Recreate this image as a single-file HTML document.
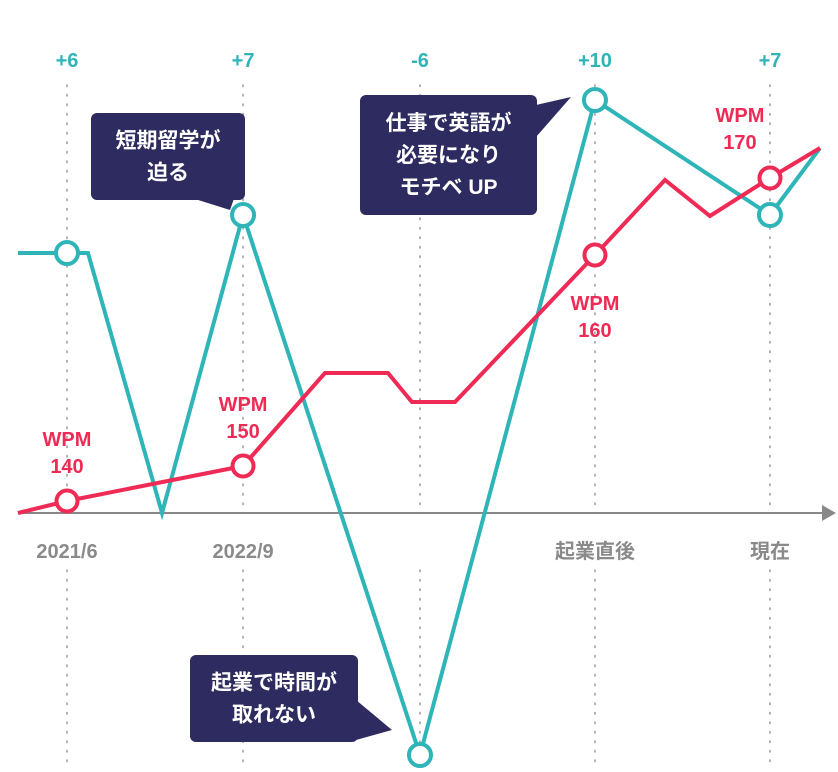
<!DOCTYPE html>
<html><head><meta charset="utf-8">
<style>
html,body{margin:0;padding:0;background:#fff;}
svg{display:block;font-family:"Liberation Sans","Noto Sans CJK JP",sans-serif;}
</style></head>
<body>
<svg id="chart" width="838" height="772" viewBox="0 0 838 772"></svg>
<script>
// ---- data ----
const categories = ["2021/6","2022/9","","起業直後","現在"];
const catX = [2.8, 12.86, 22.97, 32.97, 42.97];
const deltaLabels = ["+6","+7","-6","+10","+7"];
const xsTeal = [0, 2.8, 4, 8.23, 12.86, 22.97, 32.97, 42.97, 45.83];
const vTeal  = [26, 26, 26, 0, 29.8, -24.2, 41.3, 29.8, 36.5];
const tealMarkers = [1, 4, 5, 6, 7];
const xsRed = [0, 2.8, 12.86, 17.54, 21.14, 22.51, 24.97, 32.97, 36.97, 39.54, 42.97, 45.83];
const vRed  = [0, 1.2, 4.7, 14, 14, 11.1, 11.1, 25.8, 33.3, 29.7, 33.5, 36.5];
const redMarkers = [1, 2, 7, 10];
const wpmLabels = ["140","150","160","170"];

// ---- scales ----
const X0 = 18, PX = 17.5, AXIS_Y = 513, PY = 10;
const xScale = t => X0 + t * PX;
const yScale = v => AXIS_Y - v * PY;

const svg = document.getElementById('chart');
const NS = 'http://www.w3.org/2000/svg';
function mk(tag, attrs, parent){
  const e = document.createElementNS(NS, tag);
  for (const k in attrs) e.setAttribute(k, attrs[k]);
  (parent || svg).appendChild(e);
  return e;
}
const TEAL = '#2fb5b8', RED = '#ee2a55', NAVY = '#2d2b5f', GRAY = '#8a8a8a';

catX.forEach((t, i) => {
  const x = xScale(t);
  const l = mk('line', {x1:x, y1:85, x2:x, y2:505, stroke:'#999', 'stroke-width':1.5, 'stroke-dasharray':'1.5 8', 'stroke-linecap':'round'});
  
  
  const l2 = mk('line', {x1:x, y1:570, x2:x, y2:765, stroke:'#999', 'stroke-width':1.5, 'stroke-dasharray':'1.5 8', 'stroke-linecap':'round'});
  
  
  const d = mk('text', {x:x, y:67, 'text-anchor':'middle', fill:TEAL, 'font-size':20, 'font-weight':'bold'});
  d.textContent = deltaLabels[i];
  
  
  if (categories[i]) {
    const c = mk('text', {x:x, y:558, 'text-anchor':'middle', fill:GRAY, 'font-size':20, 'font-weight':'bold'});
    c.textContent = categories[i];
    
    
  }
});

const ax = mk('line', {x1:18, y1:AXIS_Y, x2:826, y2:AXIS_Y, stroke:'#888', 'stroke-width':2});


const arr = mk('path', {d:'M836 513 L822 505 L822 521 Z', fill:'#888'});



function callout(name, x, y, w, h, tri, lines){
  const g = mk('g', {});
  
  
  mk('rect', {x:x, y:y, width:w, height:h, rx:6, fill:NAVY}, g);
  mk('path', {d:tri, fill:NAVY}, g);
  const lh = 32, startY = y + h/2 - (lines.length-1)*lh/2 + 7;
  lines.forEach((s, i) => {
    const t = mk('text', {x:x + w/2, y:startY + i*lh, 'text-anchor':'middle', fill:'#fff', 'font-size':21, 'font-weight':'bold'}, g);
    t.textContent = s;
  });
}
callout('callout-study-abroad', 91, 113, 154, 87, 'M195 199 L230 210 L244 170 Z', ['短期留学が','迫る']);
callout('callout-work-english', 360, 95, 177, 120, 'M536 105 L571 97 L536 137 Z', ['仕事で英語が','必要になり','モチベ UP']);
callout('callout-no-time', 190, 655, 168, 87, 'M356 700 L392 730 L356 740 Z', ['起業で時間が','取れない']);

function series(name, xs, vs, color){
  const p = mk('polyline', {points: xs.map((t,i)=>xScale(t)+','+yScale(vs[i])).join(' '), fill:'none', stroke:color, 'stroke-width':4, 'stroke-linejoin':'miter'});
  
  
}
series('motivation-line', xsTeal, vTeal, TEAL);
series('wpm-line', xsRed, vRed, RED);

tealMarkers.forEach(i => {
  const c = mk('circle', {cx:xScale(xsTeal[i]), cy:yScale(vTeal[i]), r:11, fill:'#fff', stroke:TEAL, 'stroke-width':4});
  
  
});
redMarkers.forEach((i, k) => {
  const cx = xScale(xsRed[i]), cy = yScale(vRed[i]);
  const c = mk('circle', {cx:cx, cy:cy, r:10.5, fill:'#fff', stroke:RED, 'stroke-width':4});
  
  
  let lx = cx, ly = cy - 55;
  if (k === 2) { ly = cy + 55; }
  if (k === 3) { lx = cx - 30; ly = cy - 56; }
  const t1 = mk('text', {x:lx, y:ly, 'text-anchor':'middle', fill:RED, 'font-size':20, 'font-weight':'bold'});
  t1.textContent = 'WPM';
  
  
  const t2 = mk('text', {x:lx, y:ly + 27, 'text-anchor':'middle', fill:RED, 'font-size':20, 'font-weight':'bold'});
  t2.textContent = wpmLabels[k];
  
  
});
</script>
</body></html>
